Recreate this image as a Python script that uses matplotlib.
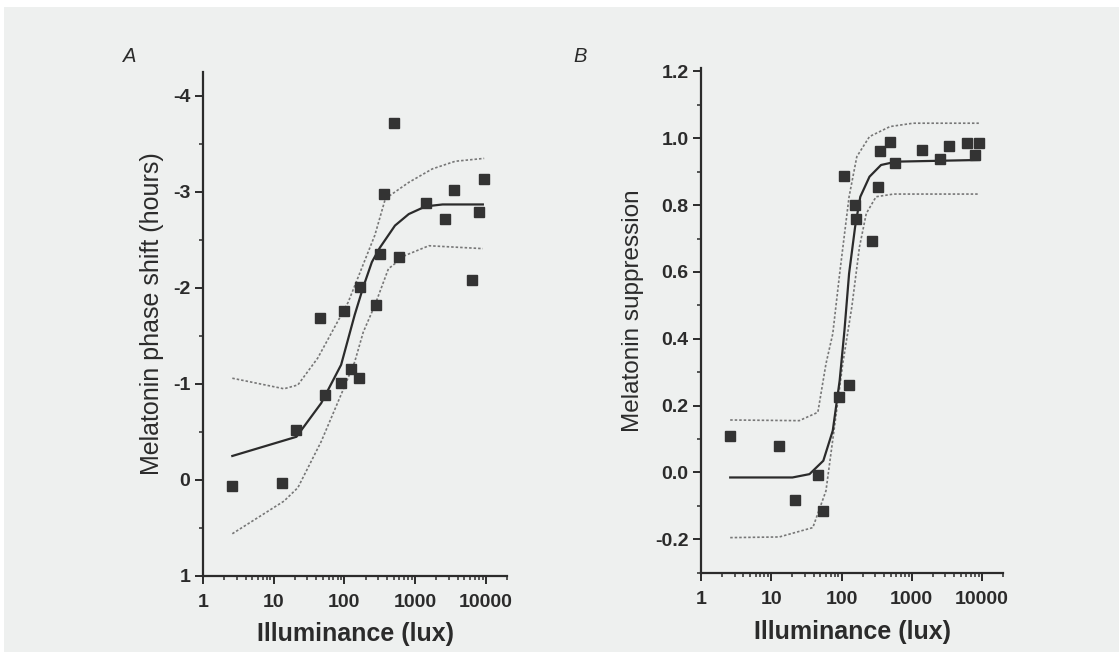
import matplotlib
matplotlib.use('Agg')
import matplotlib.pyplot as plt
from matplotlib.ticker import FixedLocator, LogLocator, NullFormatter, MultipleLocator

plt.rcParams['font.family'] = ['Liberation Sans', 'DejaVu Sans']

# Panel A: phase shift data (lux, hours; negative = advance, axis inverted)
a_lux = [2.6, 13, 21, 45, 54, 89, 100, 123, 160, 166, 280, 318, 365, 500, 590,
         1440, 2660, 3600, 6300, 8100, 9500]
a_shift = [0.06, 0.03, -0.52, -1.69, -0.88, -1.01, -1.76, -1.16, -1.06, -2.01,
           -1.82, -2.35, -2.98, -3.72, -2.32, -2.88, -2.72, -3.02, -2.08, -2.79, -3.14]

a_fit_lux = [2.6, 21, 47, 90, 140, 185, 245, 318, 520, 815, 1410, 2450, 9100]
a_fit = [-0.25, -0.45, -0.80, -1.20, -1.72, -2.01, -2.27, -2.42, -2.65, -2.77,
         -2.85, -2.87, -2.87]
a_hi_lux = [2.6, 14, 22, 42, 113, 270, 380, 815, 1750, 3700, 9500]
a_hi = [-1.06, -0.95, -0.99, -1.27, -1.85, -2.55, -2.93, -3.10, -3.24, -3.32, -3.35]
a_lo_lux = [2.6, 14, 22, 47, 90, 140, 185, 270, 420, 730, 1570, 9100]
a_lo = [0.56, 0.22, 0.08, -0.40, -0.89, -1.23, -1.54, -1.82, -2.20, -2.34, -2.44, -2.41]

# Panel B: melatonin suppression data
b_lux = [2.6, 13, 22, 46, 55, 93, 108, 126, 156, 162, 270, 330, 355, 490, 585,
         1400, 2560, 3360, 6200, 7900, 9100]
b_supp = [0.11, 0.078, -0.082, -0.008, -0.115, 0.227, 0.887, 0.262, 0.80, 0.757,
          0.693, 0.855, 0.962, 0.99, 0.925, 0.965, 0.938, 0.977, 0.985, 0.95, 0.985]

b_fit_lux = [2.6, 20, 35, 55, 75, 94, 110, 128, 156, 185, 250, 365, 600, 9000]
b_fit = [-0.015, -0.015, -0.005, 0.035, 0.125, 0.275, 0.425, 0.595, 0.735, 0.825,
         0.885, 0.92, 0.93, 0.935]
b_hi_lux = [2.6, 25, 46, 60, 75, 94, 128, 165, 250, 490, 1040, 9000]
b_hi = [0.157, 0.155, 0.18, 0.325, 0.415, 0.595, 0.825, 0.945, 1.005, 1.035, 1.045, 1.045]
b_lo_lux = [2.6, 13, 39, 60, 78, 104, 140, 180, 225, 310, 550, 9000]
b_lo = [-0.195, -0.193, -0.165, -0.055, 0.125, 0.325, 0.495, 0.675, 0.775, 0.825,
        0.833, 0.833]

x_ticks = [1, 10, 100, 1000, 10000]
x_labels = ['1', '10', '100', '1000', '10000']

ink = '#2b2b2b'
page = '#eef0ef'

fig = plt.figure(figsize=(11.19, 6.52), dpi=100, facecolor=page)
# white margin above and left of the scanned page
fig.patches.append(plt.Rectangle((0.0, 0.989), 1.0, 0.011, transform=fig.transFigure,
                                 facecolor='white', edgecolor='none', zorder=-10))
fig.patches.append(plt.Rectangle((0.0, 0.0), 0.004, 1.0, transform=fig.transFigure,
                                 facecolor='white', edgecolor='none', zorder=-10))


def style_axis(ax, xlabelpad):
    ax.set_facecolor('none')
    for side in ['top', 'right']:
        ax.spines[side].set_visible(False)
    for side in ['left', 'bottom']:
        ax.spines[side].set_linewidth(1.6)
        ax.spines[side].set_color(ink)
    ax.set_xscale('log')
    ax.set_xlim(1, 20000)
    ax.xaxis.set_major_locator(FixedLocator(x_ticks))
    ax.set_xticklabels(x_labels)
    ax.xaxis.set_minor_locator(LogLocator(base=10, subs=range(2, 10), numticks=20))
    ax.xaxis.set_minor_formatter(NullFormatter())
    ax.tick_params(which='major', direction='out', length=6, width=1.4, color=ink,
                   labelsize=14, labelcolor=ink, pad=3)
    ax.tick_params(axis='x', which='major', pad=7)
    ax.tick_params(which='minor', direction='out', length=3, width=1.1, color=ink)
    for lab in ax.get_xticklabels() + ax.get_yticklabels():
        lab.set_fontweight('bold')
    ax.set_xlabel('Illuminance (lux)', fontsize=18, fontweight='bold', color=ink,
                  labelpad=xlabelpad)


def draw_panel(ax, x, y, fx, fy, hx, hy, lx, ly):
    ax.plot(hx, hy, linestyle=(0, (1.5, 1.2)), color='#777777', linewidth=1.2)
    ax.plot(lx, ly, linestyle=(0, (1.5, 1.2)), color='#777777', linewidth=1.2)
    ax.plot(fx, fy, '-', color=ink, linewidth=1.6)
    ax.plot(x, y, 's', color='#333333', markersize=7.5, linestyle='none')


# Panel A
axA = fig.add_axes([0.1814, 0.1166, 0.2717, 0.773])
draw_panel(axA, a_lux, a_shift, a_fit_lux, a_fit, a_hi_lux, a_hi, a_lo_lux, a_lo)
axA.set_ylim(1, -4.25)
axA.yaxis.set_major_locator(FixedLocator([-4, -3, -2, -1, 0, 1]))
axA.yaxis.set_minor_locator(MultipleLocator(0.5))
axA.set_yticklabels(['-4', '-3', '-2', '-1', '0', '1'])
style_axis(axA, 8)
axA.set_ylabel('Melatonin phase shift (hours)', fontsize=18, color=ink)
axA.yaxis.set_label_coords(-0.128, 0.52)
fig.text(0.110, 0.905, 'A', fontsize=14.5, style='italic', color=ink)

# Panel B
axB = fig.add_axes([0.6265, 0.1216, 0.27, 0.774])
draw_panel(axB, b_lux, b_supp, b_fit_lux, b_fit, b_hi_lux, b_hi, b_lo_lux, b_lo)
axB.set_ylim(-0.3, 1.21)
axB.yaxis.set_major_locator(FixedLocator([-0.2, 0.0, 0.2, 0.4, 0.6, 0.8, 1.0, 1.2]))
axB.yaxis.set_minor_locator(MultipleLocator(0.1))
axB.set_yticklabels(['-0.2', '0.0', '0.2', '0.4', '0.6', '0.8', '1.0', '1.2'])
style_axis(axB, 9)
axB.set_ylabel('Melatonin suppression', fontsize=17.5, color=ink)
axB.yaxis.set_label_coords(-0.189, 0.52)
fig.text(0.512, 0.905, 'B', fontsize=14.5, style='italic', color=ink)

fig.savefig('out.png', dpi=100, facecolor=fig.get_facecolor())
